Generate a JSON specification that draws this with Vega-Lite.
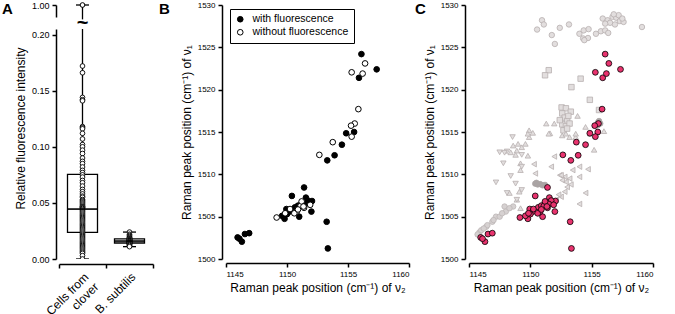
{
  "$schema": "https://vega.github.io/schema/vega-lite/v6.json",
  "padding": {"left": 2, "top": 0, "right": 2, "bottom": 2},
  "background": "white",
  "config": {
    "font": "Liberation Sans",
    "view": {"stroke": null},
    "axis": {"grid": false, "domainColor": "black", "tickColor": "black", "labelColor": "black", "titleColor": "black", "labelFontSize": 8, "titleFontSize": 12, "titleFontWeight": "normal", "domainWidth": 1.5, "tickWidth": 1.5, "tickSize": 4, "labelFont": "Liberation Sans", "titleFont": "Liberation Sans", "labelPadding": 3},
    "legend": {"labelFont": "Liberation Sans", "labelColor": "black"},
    "title": {"fontSize": 15, "fontWeight": "bold", "anchor": "start", "frame": "group", "offset": 0, "baseline": "top", "font": "Liberation Sans", "color": "black"}
  },
  "resolve": {"scale": {"fill": "independent", "stroke": "independent", "shape": "independent"}, "legend": {"fill": "independent", "stroke": "independent", "shape": "independent"}},
  "bounds": "full",
  "spacing": 5,
  "hconcat": [
    {
      "vconcat": [
        {
          "width": 94, "height": 12,
          "title": {"text": "A", "dx": -57, "dy": 20},
          "data": {"name": "fluor"},
          "transform": [{"filter": "datum.value > 0.5"}],
          "encoding": {"x": {"field": "cat", "type": "nominal", "scale": {"type": "band", "domain": ["Cells from clover", "B. subtilis"], "paddingInner": 0, "paddingOuter": 0}, "axis": null}},
          "layer": [
            {"mark": {"type": "rule", "strokeWidth": 1.3, "color": "black", "clip": false},
             "encoding": {"y": {"aggregate": "max", "field": "value", "type": "quantitative", "scale": {"domain": [0.98, 1.0], "nice": false, "zero": false}, "axis": {"values": [1], "format": ".2f", "title": null, "offset": 3, "labelFontSize": 9}}, "y2": {"datum": 0.976}}},
            {"mark": {"type": "tick", "size": 13, "thickness": 1.3, "color": "black"},
             "encoding": {"y": {"aggregate": "max", "field": "value", "type": "quantitative"}}},
            {"mark": {"type": "point", "filled": true, "fill": "white", "stroke": "black", "size": 22, "strokeWidth": 1, "opacity": 1},
             "encoding": {"y": {"field": "value", "type": "quantitative"}}},
            {"mark": {"type": "text", "text": "~", "fontSize": 20, "fontWeight": "bold", "clip": false, "baseline": "middle", "align": "center", "color": "black"},
             "encoding": {"y": {"datum": 0.97}}}
          ]
        },
        {
          "width": 94, "height": 230,
          "data": {"name": "fluor"},
          "encoding": {"x": {"field": "cat", "type": "nominal", "scale": {"type": "band", "domain": ["Cells from clover", "B. subtilis"], "paddingInner": 0, "paddingOuter": 0}, "axis": {"title": null, "labelAngle": -45, "labelAlign": "right", "labelBaseline": "top", "tickBand": "extent", "offset": 5, "labelFontSize": 12, "labelExpr": "datum.value == 'Cells from clover' ? ['Cells from', 'clover'] : datum.value"}}},
          "layer": [
            {"mark": {"type": "rule", "strokeWidth": 1.3, "color": "black", "clip": true},
             "encoding": {"y": {"aggregate": "min", "field": "value", "type": "quantitative", "scale": {"domain": [0, 0.205], "nice": false, "zero": false}, "axis": {"values": [0, 0.05, 0.1, 0.15, 0.2], "format": ".2f", "title": "Relative fluorescence intensity", "titleY": 99, "offset": 3, "labelFontSize": 9}}, "y2": {"aggregate": "max", "field": "value"}}},
            {"mark": {"type": "bar", "size": 30, "fill": "transparent", "stroke": "black", "strokeWidth": 1.3},
             "encoding": {"y": {"aggregate": "q1", "field": "value", "type": "quantitative"}, "y2": {"aggregate": "q3", "field": "value"}}},
            {"mark": {"type": "tick", "size": 13, "thickness": 1.3, "color": "black", "clip": true},
             "encoding": {"y": {"aggregate": "min", "field": "value", "type": "quantitative"}}},
            {"mark": {"type": "tick", "size": 13, "thickness": 1.3, "color": "black", "clip": true},
             "encoding": {"y": {"aggregate": "max", "field": "value", "type": "quantitative"}}},
            {"mark": {"type": "point", "filled": true, "fill": "white", "stroke": "black", "size": 22, "strokeWidth": 0.9, "opacity": 1, "clip": true},
             "encoding": {"y": {"field": "value", "type": "quantitative"}}},
            {"mark": {"type": "tick", "size": 30, "thickness": 1.6, "color": "black"},
             "encoding": {"y": {"aggregate": "median", "field": "value", "type": "quantitative"}}}
          ]
        }
      ],
      "spacing": 12,
      "bounds": "flush"
    },
    {
      "width": 183, "height": 254,
      "title": {"text": "B", "dx": -67, "dy": 20},
      "data": {"name": "raman"},
      "mark": {"type": "point", "filled": true, "size": 32, "stroke": "black", "strokeWidth": 1, "opacity": 1},
      "encoding": {
        "x": {"field": "v2", "type": "quantitative", "scale": {"domain": [1145, 1160], "nice": false, "zero": false}, "axis": {"values": [1145, 1150, 1155, 1160], "format": "d", "title": "Raman peak position (cm⁻¹) of ν₂", "offset": 4}},
        "y": {"field": "v1", "type": "quantitative", "scale": {"domain": [1500, 1530], "nice": false, "zero": false}, "axis": {"values": [1500, 1505, 1510, 1515, 1520, 1525, 1530], "format": "d", "title": "Raman peak position (cm⁻¹) of ν₁", "offset": 4}},
        "fill": {"field": "type", "type": "nominal", "scale": {"domain": ["with fluorescence", "without fluorescence"], "range": ["black", "white"]},
          "legend": {"title": null, "orient": "top-left", "offset": 4, "strokeColor": "black", "symbolStrokeColor": "black", "symbolType": "circle", "labelFontSize": 10.5, "padding": 5, "symbolSize": 32, "symbolStrokeWidth": 1, "rowPadding": 2, "labelOffset": 7}}
      }
    },
    {
      "width": 184, "height": 254,
      "title": {"text": "C", "dx": -54, "dy": 20},
      "layer": [
        {
          "data": {"name": "gray"},
          "mark": {"type": "point", "filled": true, "size": 30, "strokeWidth": 0.8, "opacity": 1},
          "encoding": {
            "x": {"field": "v2", "type": "quantitative", "scale": {"domain": [1145, 1160], "nice": false, "zero": false}, "axis": {"values": [1145, 1150, 1155, 1160], "format": "d", "title": "Raman peak position (cm⁻¹) of ν₂", "offset": 4}},
            "y": {"field": "v1", "type": "quantitative", "scale": {"domain": [1500, 1530], "nice": false, "zero": false}, "axis": {"values": [1500, 1505, 1510, 1515, 1520, 1525, 1530], "format": "d", "title": "Raman peak position (cm⁻¹) of ν₁", "offset": 4}},
            "shape": {"field": "group", "type": "nominal", "scale": {"domain": ["g1", "g2", "g3", "g4", "g5", "g6", "g7"], "range": ["circle", "square", "triangle-up", "triangle-down", "triangle-left", "circle", "circle"]}, "legend": null},
            "fill": {"field": "group", "type": "nominal", "scale": {"domain": ["g1", "g2", "g3", "g4", "g5", "g6", "g7"], "range": ["#e2dede", "#e2dede", "#e2dede", "#e2dede", "#e2dede", "#d6d1d1", "#a9a3a3"]}, "legend": null},
            "stroke": {"field": "group", "type": "nominal", "scale": {"domain": ["g1", "g2", "g3", "g4", "g5", "g6", "g7"], "range": ["#b7b0b0", "#b7b0b0", "#b7b0b0", "#b7b0b0", "#b7b0b0", "#bdb6b6", "#a9a3a3"]}, "legend": null}
          }
        },
        {
          "data": {"name": "raman"},
          "mark": {"type": "point", "filled": true, "size": 34, "fill": "#e8336e", "stroke": "black", "strokeWidth": 0.8, "opacity": 1},
          "encoding": {
            "x": {"field": "v2", "type": "quantitative"},
            "y": {"field": "v1", "type": "quantitative"}
          }
        }
      ]
    }
  ],
  "datasets": {
    "fluor": [
      {"cat": "Cells from clover", "value": 1.0},
      {"cat": "Cells from clover", "value": 0.172},
      {"cat": "Cells from clover", "value": 0.166},
      {"cat": "Cells from clover", "value": 0.144},
      {"cat": "Cells from clover", "value": 0.142},
      {"cat": "Cells from clover", "value": 0.141},
      {"cat": "Cells from clover", "value": 0.118},
      {"cat": "Cells from clover", "value": 0.117},
      {"cat": "Cells from clover", "value": 0.116},
      {"cat": "Cells from clover", "value": 0.112},
      {"cat": "Cells from clover", "value": 0.107},
      {"cat": "Cells from clover", "value": 0.102},
      {"cat": "Cells from clover", "value": 0.1},
      {"cat": "Cells from clover", "value": 0.097},
      {"cat": "Cells from clover", "value": 0.094},
      {"cat": "Cells from clover", "value": 0.09},
      {"cat": "Cells from clover", "value": 0.087},
      {"cat": "Cells from clover", "value": 0.085},
      {"cat": "Cells from clover", "value": 0.082},
      {"cat": "Cells from clover", "value": 0.079},
      {"cat": "Cells from clover", "value": 0.077},
      {"cat": "Cells from clover", "value": 0.075},
      {"cat": "Cells from clover", "value": 0.073},
      {"cat": "Cells from clover", "value": 0.07},
      {"cat": "Cells from clover", "value": 0.068},
      {"cat": "Cells from clover", "value": 0.065},
      {"cat": "Cells from clover", "value": 0.062},
      {"cat": "Cells from clover", "value": 0.06},
      {"cat": "Cells from clover", "value": 0.058},
      {"cat": "Cells from clover", "value": 0.056},
      {"cat": "Cells from clover", "value": 0.055},
      {"cat": "Cells from clover", "value": 0.053},
      {"cat": "Cells from clover", "value": 0.052},
      {"cat": "Cells from clover", "value": 0.051},
      {"cat": "Cells from clover", "value": 0.05},
      {"cat": "Cells from clover", "value": 0.049},
      {"cat": "Cells from clover", "value": 0.048},
      {"cat": "Cells from clover", "value": 0.047},
      {"cat": "Cells from clover", "value": 0.0465},
      {"cat": "Cells from clover", "value": 0.046},
      {"cat": "Cells from clover", "value": 0.0455},
      {"cat": "Cells from clover", "value": 0.045},
      {"cat": "Cells from clover", "value": 0.044},
      {"cat": "Cells from clover", "value": 0.043},
      {"cat": "Cells from clover", "value": 0.042},
      {"cat": "Cells from clover", "value": 0.041},
      {"cat": "Cells from clover", "value": 0.04},
      {"cat": "Cells from clover", "value": 0.039},
      {"cat": "Cells from clover", "value": 0.038},
      {"cat": "Cells from clover", "value": 0.037},
      {"cat": "Cells from clover", "value": 0.036},
      {"cat": "Cells from clover", "value": 0.035},
      {"cat": "Cells from clover", "value": 0.034},
      {"cat": "Cells from clover", "value": 0.033},
      {"cat": "Cells from clover", "value": 0.032},
      {"cat": "Cells from clover", "value": 0.031},
      {"cat": "Cells from clover", "value": 0.03},
      {"cat": "Cells from clover", "value": 0.029},
      {"cat": "Cells from clover", "value": 0.028},
      {"cat": "Cells from clover", "value": 0.027},
      {"cat": "Cells from clover", "value": 0.026},
      {"cat": "Cells from clover", "value": 0.025},
      {"cat": "Cells from clover", "value": 0.024},
      {"cat": "Cells from clover", "value": 0.023},
      {"cat": "Cells from clover", "value": 0.022},
      {"cat": "Cells from clover", "value": 0.021},
      {"cat": "Cells from clover", "value": 0.02},
      {"cat": "Cells from clover", "value": 0.019},
      {"cat": "Cells from clover", "value": 0.018},
      {"cat": "Cells from clover", "value": 0.017},
      {"cat": "Cells from clover", "value": 0.016},
      {"cat": "Cells from clover", "value": 0.015},
      {"cat": "Cells from clover", "value": 0.014},
      {"cat": "Cells from clover", "value": 0.013},
      {"cat": "Cells from clover", "value": 0.012},
      {"cat": "Cells from clover", "value": 0.011},
      {"cat": "Cells from clover", "value": 0.01},
      {"cat": "Cells from clover", "value": 0.009},
      {"cat": "Cells from clover", "value": 0.008},
      {"cat": "Cells from clover", "value": 0.007},
      {"cat": "Cells from clover", "value": 0.006},
      {"cat": "Cells from clover", "value": 0.005},
      {"cat": "Cells from clover", "value": 0.003},
      {"cat": "Cells from clover", "value": 0.0},
      {"cat": "B. subtilis", "value": 0.024},
      {"cat": "B. subtilis", "value": 0.022},
      {"cat": "B. subtilis", "value": 0.021},
      {"cat": "B. subtilis", "value": 0.02},
      {"cat": "B. subtilis", "value": 0.019},
      {"cat": "B. subtilis", "value": 0.019},
      {"cat": "B. subtilis", "value": 0.018},
      {"cat": "B. subtilis", "value": 0.018},
      {"cat": "B. subtilis", "value": 0.0175},
      {"cat": "B. subtilis", "value": 0.017},
      {"cat": "B. subtilis", "value": 0.017},
      {"cat": "B. subtilis", "value": 0.0168},
      {"cat": "B. subtilis", "value": 0.0165},
      {"cat": "B. subtilis", "value": 0.0162},
      {"cat": "B. subtilis", "value": 0.016},
      {"cat": "B. subtilis", "value": 0.016},
      {"cat": "B. subtilis", "value": 0.0158},
      {"cat": "B. subtilis", "value": 0.0155},
      {"cat": "B. subtilis", "value": 0.0152},
      {"cat": "B. subtilis", "value": 0.015},
      {"cat": "B. subtilis", "value": 0.015},
      {"cat": "B. subtilis", "value": 0.0145},
      {"cat": "B. subtilis", "value": 0.0142},
      {"cat": "B. subtilis", "value": 0.014},
      {"cat": "B. subtilis", "value": 0.0138},
      {"cat": "B. subtilis", "value": 0.0135},
      {"cat": "B. subtilis", "value": 0.013},
      {"cat": "B. subtilis", "value": 0.0125},
      {"cat": "B. subtilis", "value": 0.012},
      {"cat": "B. subtilis", "value": 0.011}
    ],
    "raman": [
      {"v2": 1156.1, "v1": 1524.2, "type": "with fluorescence"},
      {"v2": 1157.35, "v1": 1522.4, "type": "with fluorescence"},
      {"v2": 1155.9, "v1": 1521.4, "type": "with fluorescence"},
      {"v2": 1154.85, "v1": 1514.85, "type": "with fluorescence"},
      {"v2": 1155.5, "v1": 1515.0, "type": "with fluorescence"},
      {"v2": 1154.5, "v1": 1513.5, "type": "with fluorescence"},
      {"v2": 1153.9, "v1": 1512.25, "type": "with fluorescence"},
      {"v2": 1153.3, "v1": 1511.65, "type": "with fluorescence"},
      {"v2": 1153.25, "v1": 1504.4, "type": "with fluorescence"},
      {"v2": 1153.35, "v1": 1501.25, "type": "with fluorescence"},
      {"v2": 1151.4, "v1": 1508.45, "type": "with fluorescence"},
      {"v2": 1150.4, "v1": 1507.45, "type": "with fluorescence"},
      {"v2": 1151.55, "v1": 1507.25, "type": "with fluorescence"},
      {"v2": 1152.05, "v1": 1506.85, "type": "with fluorescence"},
      {"v2": 1149.95, "v1": 1505.9, "type": "with fluorescence"},
      {"v2": 1150.65, "v1": 1506.1, "type": "with fluorescence"},
      {"v2": 1152.0, "v1": 1505.6, "type": "with fluorescence"},
      {"v2": 1151.0, "v1": 1505.0, "type": "with fluorescence"},
      {"v2": 1149.8, "v1": 1504.75, "type": "with fluorescence"},
      {"v2": 1149.6, "v1": 1505.1, "type": "with fluorescence"},
      {"v2": 1145.95, "v1": 1502.55, "type": "with fluorescence"},
      {"v2": 1146.3, "v1": 1502.05, "type": "with fluorescence"},
      {"v2": 1146.1, "v1": 1502.4, "type": "with fluorescence"},
      {"v2": 1146.55, "v1": 1502.95, "type": "with fluorescence"},
      {"v2": 1146.9, "v1": 1503.05, "type": "with fluorescence"},
      {"v2": 1151.7, "v1": 1506.9, "type": "with fluorescence"},
      {"v2": 1150.2, "v1": 1505.6, "type": "with fluorescence"},
      {"v2": 1151.2, "v1": 1506.6, "type": "with fluorescence"},
      {"v2": 1150.9, "v1": 1506.3, "type": "with fluorescence"},
      {"v2": 1150.0, "v1": 1505.3, "type": "with fluorescence"},
      {"v2": 1151.5, "v1": 1506.5, "type": "with fluorescence"},
      {"v2": 1156.4, "v1": 1523.1, "type": "without fluorescence"},
      {"v2": 1155.3, "v1": 1522.05, "type": "without fluorescence"},
      {"v2": 1156.2, "v1": 1521.9, "type": "without fluorescence"},
      {"v2": 1155.85, "v1": 1517.7, "type": "without fluorescence"},
      {"v2": 1155.55, "v1": 1516.0, "type": "without fluorescence"},
      {"v2": 1155.25, "v1": 1515.75, "type": "without fluorescence"},
      {"v2": 1155.3, "v1": 1514.45, "type": "without fluorescence"},
      {"v2": 1153.75, "v1": 1513.8, "type": "without fluorescence"},
      {"v2": 1152.65, "v1": 1512.3, "type": "without fluorescence"},
      {"v2": 1149.15, "v1": 1504.9, "type": "without fluorescence"},
      {"v2": 1149.85, "v1": 1505.4, "type": "without fluorescence"},
      {"v2": 1150.25, "v1": 1505.9, "type": "without fluorescence"},
      {"v2": 1150.8, "v1": 1505.6, "type": "without fluorescence"},
      {"v2": 1151.1, "v1": 1506.25, "type": "without fluorescence"},
      {"v2": 1151.4, "v1": 1506.05, "type": "without fluorescence"},
      {"v2": 1151.9, "v1": 1506.4, "type": "without fluorescence"},
      {"v2": 1151.2, "v1": 1506.8, "type": "without fluorescence"},
      {"v2": 1151.35, "v1": 1506.2, "type": "without fluorescence"},
      {"v2": 1150.6, "v1": 1505.4, "type": "without fluorescence"},
      {"v2": 1150.9, "v1": 1505.85, "type": "without fluorescence"}
    ],
    "gray": [
      {"v2": 1150.95, "v1": 1528.2, "group": "g1"},
      {"v2": 1150.55, "v1": 1527.1, "group": "g1"},
      {"v2": 1151.1, "v1": 1527.7, "group": "g1"},
      {"v2": 1151.75, "v1": 1526.45, "group": "g1"},
      {"v2": 1152.4, "v1": 1527.3, "group": "g1"},
      {"v2": 1153.15, "v1": 1527.7, "group": "g1"},
      {"v2": 1152.0, "v1": 1525.4, "group": "g1"},
      {"v2": 1154.0, "v1": 1526.6, "group": "g1"},
      {"v2": 1154.35, "v1": 1527.0, "group": "g1"},
      {"v2": 1154.75, "v1": 1527.15, "group": "g1"},
      {"v2": 1154.3, "v1": 1526.05, "group": "g1"},
      {"v2": 1154.7, "v1": 1526.1, "group": "g1"},
      {"v2": 1154.4, "v1": 1525.85, "group": "g1"},
      {"v2": 1155.35, "v1": 1526.6, "group": "g1"},
      {"v2": 1155.75, "v1": 1526.9, "group": "g1"},
      {"v2": 1156.1, "v1": 1527.0, "group": "g1"},
      {"v2": 1156.35, "v1": 1526.7, "group": "g1"},
      {"v2": 1155.9, "v1": 1528.4, "group": "g1"},
      {"v2": 1156.3, "v1": 1528.2, "group": "g1"},
      {"v2": 1156.7, "v1": 1528.6, "group": "g1"},
      {"v2": 1157.0, "v1": 1528.5, "group": "g1"},
      {"v2": 1157.3, "v1": 1528.1, "group": "g1"},
      {"v2": 1157.6, "v1": 1528.0, "group": "g1"},
      {"v2": 1156.5, "v1": 1527.9, "group": "g1"},
      {"v2": 1156.9, "v1": 1527.7, "group": "g1"},
      {"v2": 1156.1, "v1": 1527.8, "group": "g1"},
      {"v2": 1157.2, "v1": 1528.8, "group": "g1"},
      {"v2": 1156.8, "v1": 1528.9, "group": "g1"},
      {"v2": 1157.5, "v1": 1528.4, "group": "g1"},
      {"v2": 1159.1, "v1": 1527.4, "group": "g1"},
      {"v2": 1151.5, "v1": 1522.3, "group": "g2"},
      {"v2": 1151.2, "v1": 1521.7, "group": "g2"},
      {"v2": 1154.1, "v1": 1521.3, "group": "g2"},
      {"v2": 1153.35, "v1": 1520.3, "group": "g2"},
      {"v2": 1154.85, "v1": 1518.8, "group": "g2"},
      {"v2": 1152.55, "v1": 1517.9, "group": "g2"},
      {"v2": 1152.9, "v1": 1517.8, "group": "g2"},
      {"v2": 1153.3, "v1": 1517.4, "group": "g2"},
      {"v2": 1152.6, "v1": 1517.2, "group": "g2"},
      {"v2": 1152.8, "v1": 1516.7, "group": "g2"},
      {"v2": 1153.0, "v1": 1516.3, "group": "g2"},
      {"v2": 1152.6, "v1": 1515.9, "group": "g2"},
      {"v2": 1152.9, "v1": 1515.7, "group": "g2"},
      {"v2": 1153.2, "v1": 1516.0, "group": "g2"},
      {"v2": 1152.7, "v1": 1515.2, "group": "g2"},
      {"v2": 1153.0, "v1": 1515.4, "group": "g2"},
      {"v2": 1155.6, "v1": 1517.6, "group": "g2"},
      {"v2": 1152.4, "v1": 1516.4, "group": "g2"},
      {"v2": 1153.1, "v1": 1516.9, "group": "g2"},
      {"v2": 1153.85, "v1": 1516.9, "group": "g3"},
      {"v2": 1151.3, "v1": 1516.0, "group": "g3"},
      {"v2": 1151.95, "v1": 1516.0, "group": "g3"},
      {"v2": 1149.9, "v1": 1515.2, "group": "g3"},
      {"v2": 1150.2, "v1": 1514.9, "group": "g3"},
      {"v2": 1151.6, "v1": 1514.85, "group": "g3"},
      {"v2": 1149.9, "v1": 1514.4, "group": "g3"},
      {"v2": 1149.0, "v1": 1513.6, "group": "g3"},
      {"v2": 1149.6, "v1": 1513.6, "group": "g3"},
      {"v2": 1149.3, "v1": 1513.2, "group": "g3"},
      {"v2": 1148.6, "v1": 1513.4, "group": "g3"},
      {"v2": 1148.4, "v1": 1512.6, "group": "g3"},
      {"v2": 1148.9, "v1": 1512.8, "group": "g3"},
      {"v2": 1154.5, "v1": 1515.6, "group": "g3"},
      {"v2": 1154.9, "v1": 1514.8, "group": "g3"},
      {"v2": 1153.7, "v1": 1514.4, "group": "g3"},
      {"v2": 1156.0, "v1": 1515.1, "group": "g3"},
      {"v2": 1151.5, "v1": 1514.8, "group": "g3"},
      {"v2": 1149.8, "v1": 1514.8, "group": "g3"},
      {"v2": 1148.8, "v1": 1512.3, "group": "g3"},
      {"v2": 1149.2, "v1": 1511.3, "group": "g3"},
      {"v2": 1149.2, "v1": 1510.5, "group": "g3"},
      {"v2": 1149.8, "v1": 1512.2, "group": "g3"},
      {"v2": 1148.3, "v1": 1507.8, "group": "g3"},
      {"v2": 1149.1, "v1": 1507.95, "group": "g3"},
      {"v2": 1149.2, "v1": 1506.0, "group": "g3"},
      {"v2": 1148.9, "v1": 1507.0, "group": "g3"},
      {"v2": 1152.6, "v1": 1514.6, "group": "g3"},
      {"v2": 1152.9, "v1": 1514.8, "group": "g3"},
      {"v2": 1153.2, "v1": 1514.4, "group": "g3"},
      {"v2": 1153.7, "v1": 1514.8, "group": "g3"},
      {"v2": 1155.2, "v1": 1512.9, "group": "g3"},
      {"v2": 1148.55, "v1": 1514.4, "group": "g4"},
      {"v2": 1148.1, "v1": 1512.7, "group": "g4"},
      {"v2": 1147.5, "v1": 1512.6, "group": "g4"},
      {"v2": 1147.8, "v1": 1511.3, "group": "g4"},
      {"v2": 1147.2, "v1": 1509.05, "group": "g4"},
      {"v2": 1148.4, "v1": 1509.8, "group": "g4"},
      {"v2": 1148.8, "v1": 1508.9, "group": "g4"},
      {"v2": 1148.1, "v1": 1507.8, "group": "g4"},
      {"v2": 1149.3, "v1": 1508.15, "group": "g4"},
      {"v2": 1148.9, "v1": 1507.0, "group": "g4"},
      {"v2": 1149.3, "v1": 1512.3, "group": "g4"},
      {"v2": 1147.9, "v1": 1512.55, "group": "g4"},
      {"v2": 1149.3, "v1": 1510.9, "group": "g4"},
      {"v2": 1151.95, "v1": 1512.1, "group": "g5"},
      {"v2": 1151.7, "v1": 1510.9, "group": "g5"},
      {"v2": 1152.4, "v1": 1509.9, "group": "g5"},
      {"v2": 1152.8, "v1": 1509.7, "group": "g5"},
      {"v2": 1154.0, "v1": 1509.7, "group": "g5"},
      {"v2": 1153.45, "v1": 1510.5, "group": "g5"},
      {"v2": 1154.0, "v1": 1510.9, "group": "g5"},
      {"v2": 1154.7, "v1": 1510.6, "group": "g5"},
      {"v2": 1154.5, "v1": 1507.8, "group": "g5"},
      {"v2": 1154.0, "v1": 1506.5, "group": "g5"},
      {"v2": 1150.4, "v1": 1510.1, "group": "g5"},
      {"v2": 1152.6, "v1": 1509.3, "group": "g5"},
      {"v2": 1152.9, "v1": 1509.1, "group": "g5"},
      {"v2": 1153.2, "v1": 1509.5, "group": "g5"},
      {"v2": 1152.5, "v1": 1509.9, "group": "g5"},
      {"v2": 1153.0, "v1": 1508.5, "group": "g5"},
      {"v2": 1152.8, "v1": 1507.95, "group": "g5"},
      {"v2": 1152.5, "v1": 1507.35, "group": "g5"},
      {"v2": 1152.1, "v1": 1507.0, "group": "g5"},
      {"v2": 1153.3, "v1": 1508.8, "group": "g5"},
      {"v2": 1152.3, "v1": 1507.6, "group": "g5"},
      {"v2": 1150.3, "v1": 1511.2, "group": "g5"},
      {"v2": 1145.85, "v1": 1503.15, "group": "g6"},
      {"v2": 1146.0, "v1": 1503.4, "group": "g6"},
      {"v2": 1146.4, "v1": 1503.8, "group": "g6"},
      {"v2": 1146.5, "v1": 1504.0, "group": "g6"},
      {"v2": 1146.9, "v1": 1504.4, "group": "g6"},
      {"v2": 1147.2, "v1": 1505.0, "group": "g6"},
      {"v2": 1147.5, "v1": 1505.0, "group": "g6"},
      {"v2": 1147.9, "v1": 1506.2, "group": "g6"},
      {"v2": 1148.0, "v1": 1505.6, "group": "g6"},
      {"v2": 1148.6, "v1": 1506.2, "group": "g6"},
      {"v2": 1146.2, "v1": 1503.6, "group": "g6"},
      {"v2": 1147.0, "v1": 1504.6, "group": "g6"},
      {"v2": 1147.7, "v1": 1505.4, "group": "g6"},
      {"v2": 1145.7, "v1": 1502.9, "group": "g6"},
      {"v2": 1148.3, "v1": 1506.0, "group": "g6"},
      {"v2": 1150.4, "v1": 1508.9, "group": "g7"},
      {"v2": 1150.6, "v1": 1508.8, "group": "g7"},
      {"v2": 1150.8, "v1": 1508.85, "group": "g7"},
      {"v2": 1151.0, "v1": 1508.7, "group": "g7"},
      {"v2": 1151.2, "v1": 1508.75, "group": "g7"},
      {"v2": 1150.5, "v1": 1509.0, "group": "g7"},
      {"v2": 1155.5, "v1": 1516.1, "group": "g7"},
      {"v2": 1155.6, "v1": 1516.3, "group": "g7"},
      {"v2": 1155.7, "v1": 1516.0, "group": "g7"},
      {"v2": 1155.5, "v1": 1515.8, "group": "g7"}
    ]
  }
}
